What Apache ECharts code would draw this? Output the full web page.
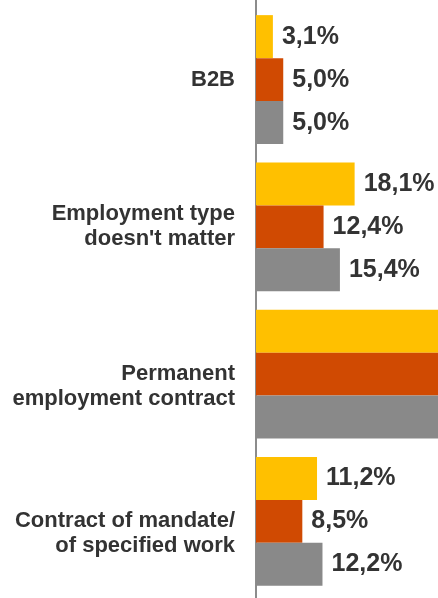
<!DOCTYPE html>
<html>
<head>
<meta charset="utf-8">
<script src="https://cdn.jsdelivr.net/npm/echarts@6/dist/echarts.min.js"></script>
<style>
html,body{margin:0;padding:0;background:#fff;}
#main{width:438px;height:598px;}
</style>
</head>
<body>
<div id="main"></div>
<script>
const categories = ["B2B", "Employment type\ndoesn't matter", "Permanent\nemployment contract", "Contract of mandate/\nof specified work"];
const seriesA = [3.1, 18.1, 67.6, 11.2];
const seriesB = [5.0, 12.4, 74.1, 8.5];
const seriesC = [5.0, 15.4, 67.4, 12.2];
const colors = ["#FFC000", "#D04A02", "#898989"];

const chart = echarts.init(document.getElementById('main'), null, {renderer: 'canvas'});
const labelCfg = {
  show: true,
  position: 'right',
  distance: 9,
  fontFamily: 'Liberation Sans, Arial, sans-serif',
  fontWeight: 'bold',
  fontSize: 25,
  color: '#333333',
  formatter: p => p.value.toFixed(1).replace('.', ',') + '%'
};
function mk(data, color) {
  return {
    type: 'bar',
    data: data,
    itemStyle: {color: color},
    label: labelCfg,
    barGap: '0%',
    barCategoryGap: '12.4%',
    clip: true,
    animation: false
  };
}
chart.setOption({
  animation: false,
  grid: [
    {left: 256, right: 0, top: 6, bottom: 3, containLabel: false},
    {left: 256, right: 0, top: 0, bottom: 0, containLabel: false}
  ],
  xAxis: [
    {type: 'value', gridIndex: 0, min: 0, max: 33.4, show: false, splitLine: {show: false}},
    {type: 'value', gridIndex: 1, min: 0, max: 1, show: false, splitLine: {show: false}}
  ],
  yAxis: [
    {
      type: 'category',
      gridIndex: 0,
      data: categories,
      inverse: true,
      axisLine: {show: false},
      axisTick: {show: false},
      axisLabel: {
        margin: 21,
        fontFamily: 'Liberation Sans, Arial, sans-serif',
        fontWeight: 'bold',
        fontSize: 22,
        lineHeight: 25,
        color: '#333333',
        align: 'right',
        formatter: (v, i) => (i >= 2 ? '\n' : '') + v
      }
    },
    {
      type: 'category',
      gridIndex: 1,
      data: [''],
      axisLine: {show: true, lineStyle: {color: '#8c8c8c', width: 2}},
      axisTick: {show: false},
      axisLabel: {show: false}
    }
  ],
  series: [mk(seriesA, colors[0]), mk(seriesB, colors[1]), mk(seriesC, colors[2])]
});
</script>
</body>
</html>
